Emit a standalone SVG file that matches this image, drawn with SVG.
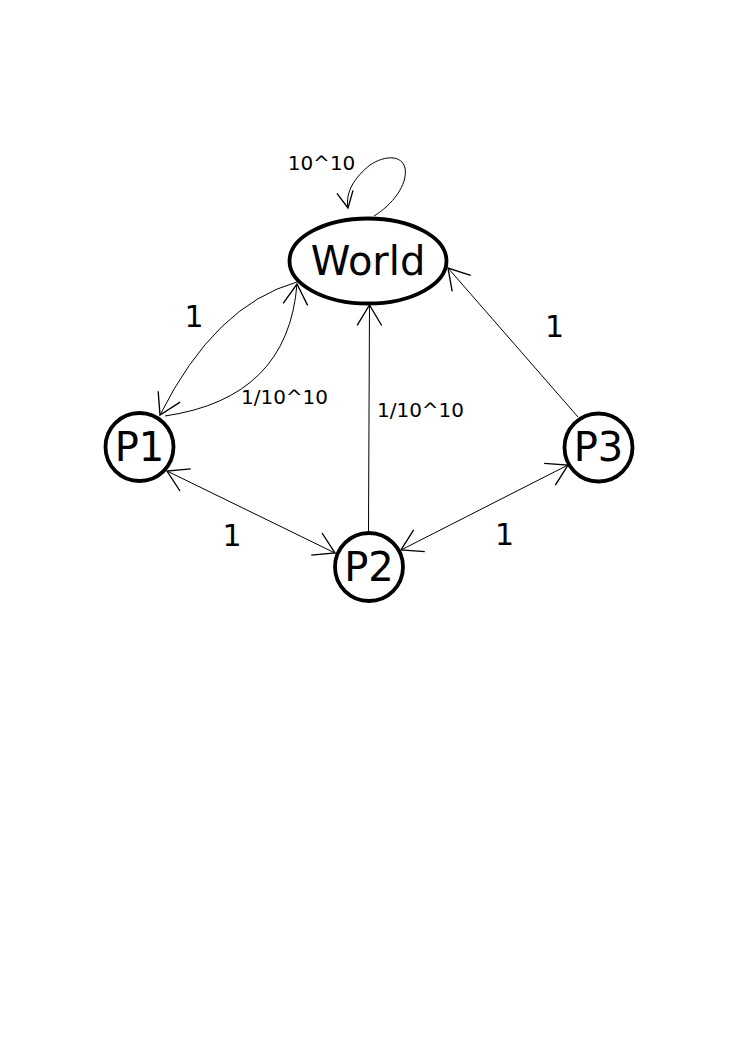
<svg xmlns="http://www.w3.org/2000/svg" width="745" height="1053" viewBox="0 0 745 1053">
<style>
.node{fill:#fff;stroke:#000;stroke-width:3.8}
.edge{fill:none;stroke:#000;stroke-width:1}
.nl{font-family:"DejaVu Sans","Liberation Sans",sans-serif;font-size:40px;text-anchor:middle;fill:#000}
.el{font-family:"DejaVu Sans","Liberation Sans",sans-serif;font-size:20px;text-anchor:middle;fill:#000}
.eb{font-family:"DejaVu Sans","Liberation Sans",sans-serif;font-size:30px;text-anchor:middle;fill:#000}
</style>
<defs>
<marker id="ah" markerUnits="userSpaceOnUse" markerWidth="30" markerHeight="30" viewBox="-16 -11 17 22" refX="0" refY="0" orient="auto-start-reverse" overflow="visible">
<path d="M-15,-9 L0,0 L-15,9" fill="none" stroke="#000" stroke-width="1"/>
</marker>
<marker id="ahs" markerUnits="userSpaceOnUse" markerWidth="30" markerHeight="30" viewBox="-16 -11 17 22" refX="0" refY="0" orient="auto" overflow="visible">
<path d="M-12,-6 L0,0 L-12,6" fill="none" stroke="#000" stroke-width="1"/>
</marker>
</defs>
<rect width="745" height="1053" fill="#fff"/>
<g id="connectors">
<path class="edge" d="M374,216 C392,205 408,185 405,168 C402,155 385,155 370,165 C355,177 345,192 348,208" marker-end="url(#ahs)"/>
<path class="edge" d="M297,282 Q215,305 160,415" marker-end="url(#ah)"/>
<path class="edge" d="M165,416 Q288,398 297,284" marker-end="url(#ah)"/>
<path class="edge" d="M368.5,531 L369.5,305" marker-end="url(#ah)"/>
<path class="edge" d="M578,417 L448,268" marker-end="url(#ah)"/>
<path class="edge" d="M167,471 L335,553" marker-start="url(#ah)" marker-end="url(#ah)"/>
<path class="edge" d="M401,550 L568,465" marker-start="url(#ah)" marker-end="url(#ah)"/>
<text class="el" x="321.5" y="170">10^10</text>
<text class="eb" x="194" y="327">1</text>
<text class="el" x="284.5" y="404">1/10^10</text>
<text class="el" x="420.5" y="417">1/10^10</text>
<text class="eb" x="554.5" y="337">1</text>
<text class="eb" x="232" y="546">1</text>
<text class="eb" x="504.5" y="545">1</text>
</g>
<g id="World">
<ellipse class="node" cx="368" cy="261" rx="78.5" ry="42.5"/>
<text class="nl" x="368" y="275">World</text>
</g>
<g id="P1">
<circle class="node" cx="139.5" cy="447" r="34"/>
<text class="nl" x="139.5" y="461">P1</text>
</g>
<g id="P2">
<circle class="node" cx="369" cy="567" r="34"/>
<text class="nl" x="369" y="581">P2</text>
</g>
<g id="P3">
<circle class="node" cx="598.5" cy="447.5" r="34"/>
<text class="nl" x="598.5" y="461">P3</text>
</g>
</svg>
